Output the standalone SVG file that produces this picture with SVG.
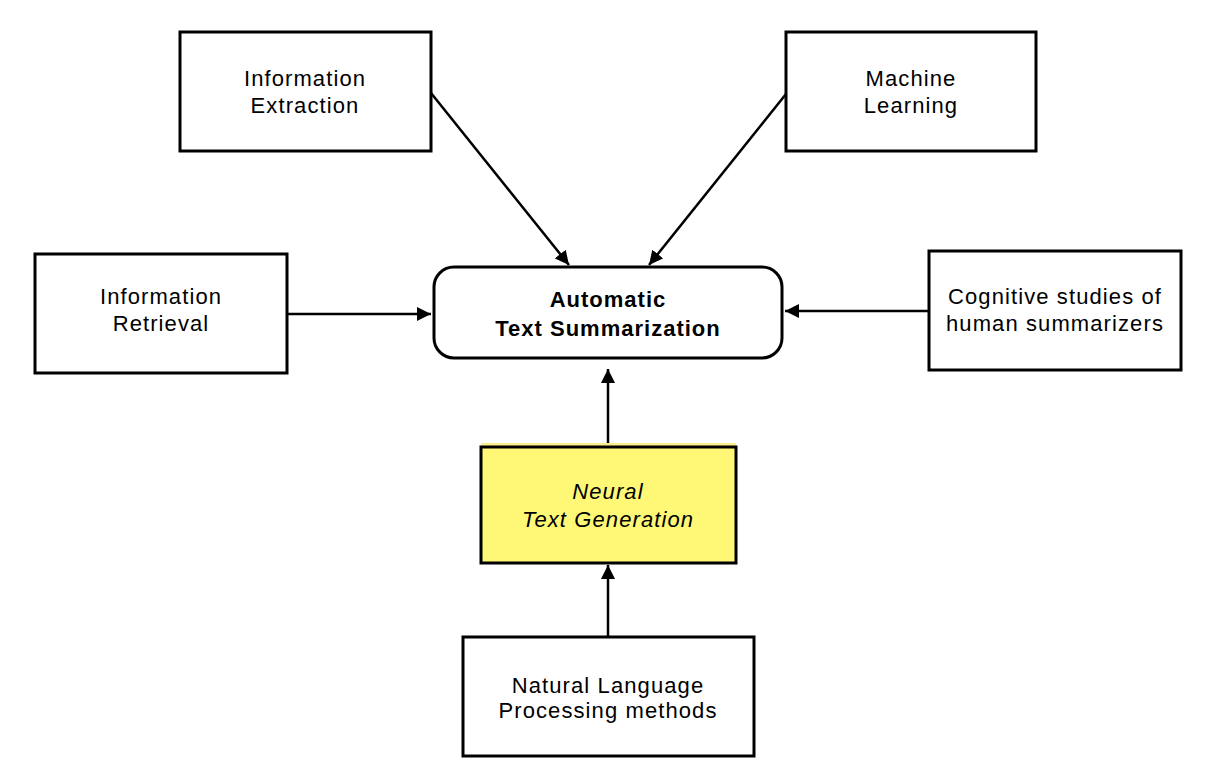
<svg xmlns="http://www.w3.org/2000/svg" width="1215" height="781" viewBox="0 0 1215 781">
<defs>
<style>
.box{fill:#fff;stroke:#000;stroke-width:3}
.t{font-family:"Liberation Sans",Arial,sans-serif;font-size:22px;letter-spacing:1.1px;fill:#000;text-anchor:middle}
.b{font-weight:bold;letter-spacing:1px}
.i{font-style:italic}
.c{stroke:#000;stroke-width:2.5;fill:none;marker-end:url(#ah)}
</style>
<marker id="ah" viewBox="0 0 10 10" refX="10" refY="5" markerWidth="5.6" markerHeight="5.6" orient="auto" markerUnits="strokeWidth">
<path d="M0,0 L10,5 L0,10 z" fill="#000"/>
</marker>
</defs>
<rect width="1215" height="781" fill="#fff"/>
<g id="connectors">
<line class="c" x1="431" y1="93" x2="569" y2="265"/>
<line class="c" x1="786" y1="94" x2="649" y2="265"/>
<line class="c" x1="287" y1="314" x2="431" y2="314"/>
<line class="c" x1="929" y1="311" x2="785" y2="311"/>
<line class="c" x1="608" y1="446" x2="608" y2="369"/>
<line class="c" x1="608" y1="637" x2="608" y2="565"/>
</g>
<g id="ie">
<rect class="box" x="180" y="32" width="251" height="119"/>
<text class="t" x="305" y="86">Information</text>
<text class="t" x="305" y="113">Extraction</text>
</g>
<g id="ml">
<rect class="box" x="786" y="32" width="250" height="119"/>
<text class="t" x="911" y="86">Machine</text>
<text class="t" x="911" y="113">Learning</text>
</g>
<g id="ir">
<rect class="box" x="35" y="254" width="252" height="119"/>
<text class="t" x="161" y="304">Information</text>
<text class="t" x="161" y="331">Retrieval</text>
</g>
<g id="cog">
<rect class="box" x="929" y="251" width="252" height="119"/>
<text class="t" x="1055" y="304">Cognitive studies of</text>
<text class="t" x="1055" y="331">human summarizers</text>
</g>
<g id="ats">
<rect class="box" x="434" y="267" width="348" height="91" rx="20"/>
<text class="t b" x="608" y="307">Automatic</text>
<text class="t b" x="608" y="336">Text Summarization</text>
</g>
<g id="ntg">
<rect x="481" y="443" width="255" height="6" fill="#fcef8a"/>
<rect class="box" x="481" y="447" width="255" height="116" style="fill:#fff877"/>
<text class="t i" x="608" y="499">Neural</text>
<text class="t i" x="608" y="527">Text Generation</text>
</g>
<g id="nlp">
<rect class="box" x="463" y="637" width="291" height="119"/>
<text class="t" x="608" y="693">Natural Language</text>
<text class="t" x="608" y="718">Processing methods</text>
</g>
</svg>
